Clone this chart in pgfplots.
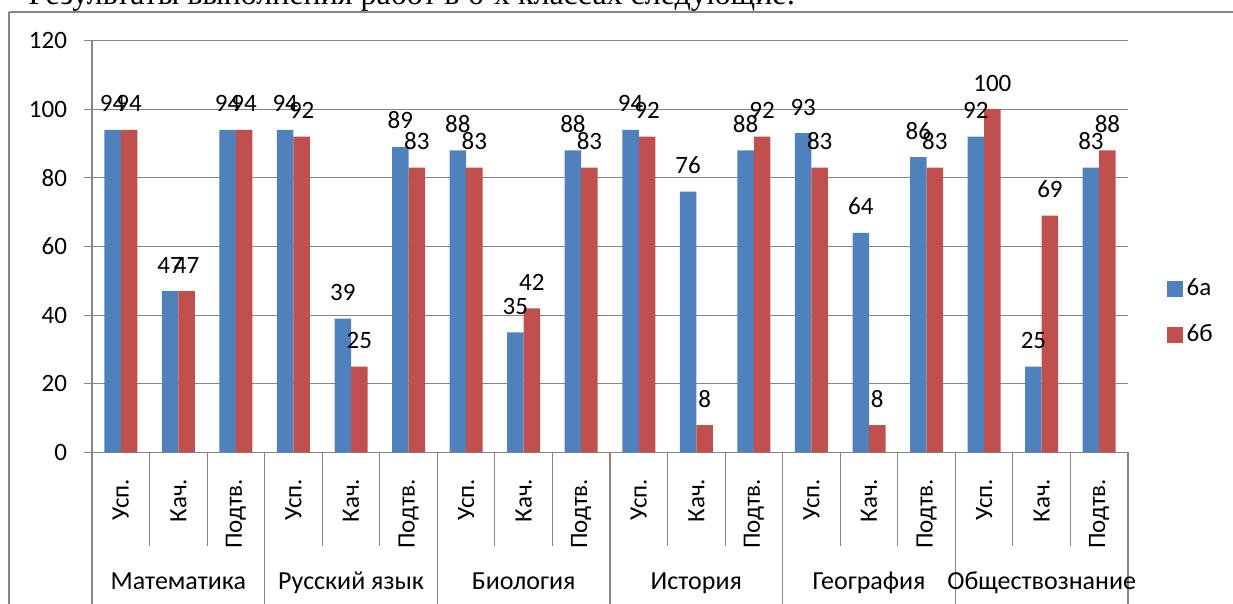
\documentclass[border=0pt]{standalone}
\usepackage{pgfplots}
\pgfplotsset{compat=1.18}
\usepackage{fontspec}
\setmainfont{Carlito}
\newfontfamily\timesfont{Liberation Serif}
\definecolor{bblue}{HTML}{4F81BD}
\definecolor{bred}{HTML}{C0504D}
\definecolor{gridc}{HTML}{868686}
\pgfplotstableread{
x a b
0 94 94
1 47 47
2 94 94
3 94 92
4 39 25
5 89 83
6 88 83
7 35 42
8 88 83
9 94 92
10 76 8
11 88 92
12 93 83
13 64 8
14 86 83
15 92 100
16 25 69
17 83 88
}\datatable
\newcommand\cf{\fontsize{12.5}{14}\selectfont}
\begin{document}
\begin{tikzpicture}[x=1pt,y=1pt]
\useasboundingbox (0,0) rectangle (616.5,302);
\node[anchor=base west, inner sep=0pt] at (14,299.5) {\resizebox{383.5pt}{!}{\timesfont Результаты выполнения работ в 6-х классах следующие:}};
\draw[gridc, line width=0.6pt] (4.5,296) -- (620,296);
\draw[gridc, line width=0.6pt] (4.5,296) -- (4.5,-5);
\begin{axis}[
  at={(46pt,75.75pt)}, anchor=south west,
  scale only axis, width=518pt, height=206pt,
  xmin=-0.5, xmax=17.5, ymin=0, ymax=120,
  ytick={0,20,...,120},
  xtick={0,...,17},
  xticklabels={Усп.,Кач.,Подтв.,Усп.,Кач.,Подтв.,Усп.,Кач.,Подтв.,Усп.,Кач.,Подтв.,Усп.,Кач.,Подтв.,Усп.,Кач.,Подтв.},
  axis lines*=left,
  axis line style={gridc, line width=0.6pt},
  ymajorgrids, grid style={gridc, line width=0.6pt},
  tick align=outside,
  major tick length=4pt,
  ytick style={gridc, line width=0.6pt},
  xtick style={draw=none},
  font=\cf,
  /pgf/number format/assume math mode=true,
  ticklabel style={font=\cf},
  yticklabel style={xshift=-5pt},
  xticklabel style={yshift=-9pt, rotate=90, anchor=east, inner sep=0pt},
  ybar=0pt, bar width=8.25pt,
  nodes near coords,
  nodes near coords style={anchor=base, inner sep=0pt, yshift=9pt, font=\cf, text=black},
  clip=false,
  legend style={at={(1.037,0.342)}, anchor=west, draw=none, fill=none, font=\cf, row sep=9pt, inner sep=0pt},
  legend cell align=left,
]
\addplot[fill=bblue, draw=none, legend image code/.code={\fill[bblue] (0pt,-4pt) rectangle (8pt,4pt);}] table[x=x,y=a]{\datatable};
\addplot[fill=bred, draw=none, legend image code/.code={\fill[bred] (0pt,-4pt) rectangle (8pt,4pt);}] table[x=x,y=b]{\datatable};
\legend{6а,6б}
\pgfplotsinvokeforeach{0.5,1.5,3.5,4.5,6.5,7.5,9.5,10.5,12.5,13.5,15.5,16.5}{
  \draw[gridc, line width=0.6pt] (axis cs:#1,0) -- ([yshift=-47pt]axis cs:#1,0);
}
\pgfplotsinvokeforeach{-0.5,2.5,5.5,8.5,11.5,14.5,17.5}{
  \draw[gridc, line width=0.6pt] (axis cs:#1,0) -- ([yshift=-90pt]axis cs:#1,0);
}
\pgfplotsinvokeforeach{{1/Математика},{4/Русский язык},{7/Биология},{10/История},{13/География},{16/Обществознание}}{
}
\node[anchor=base, font=\fontsize{13}{15}\selectfont] at ([yshift=-68.75pt]axis cs:1,0) {Математика};
\node[anchor=base, font=\fontsize{13}{15}\selectfont] at ([yshift=-68.75pt]axis cs:4,0) {Русский язык};
\node[anchor=base, font=\fontsize{13}{15}\selectfont] at ([yshift=-68.75pt]axis cs:7,0) {Биология};
\node[anchor=base, font=\fontsize{13}{15}\selectfont] at ([yshift=-68.75pt]axis cs:10,0) {История};
\node[anchor=base, font=\fontsize{13}{15}\selectfont] at ([yshift=-68.75pt]axis cs:13,0) {География};
\node[anchor=base, font=\fontsize{13}{15}\selectfont] at ([yshift=-68.75pt]axis cs:16,0) {Обществознание};
\end{axis}
\end{tikzpicture}
\end{document}
